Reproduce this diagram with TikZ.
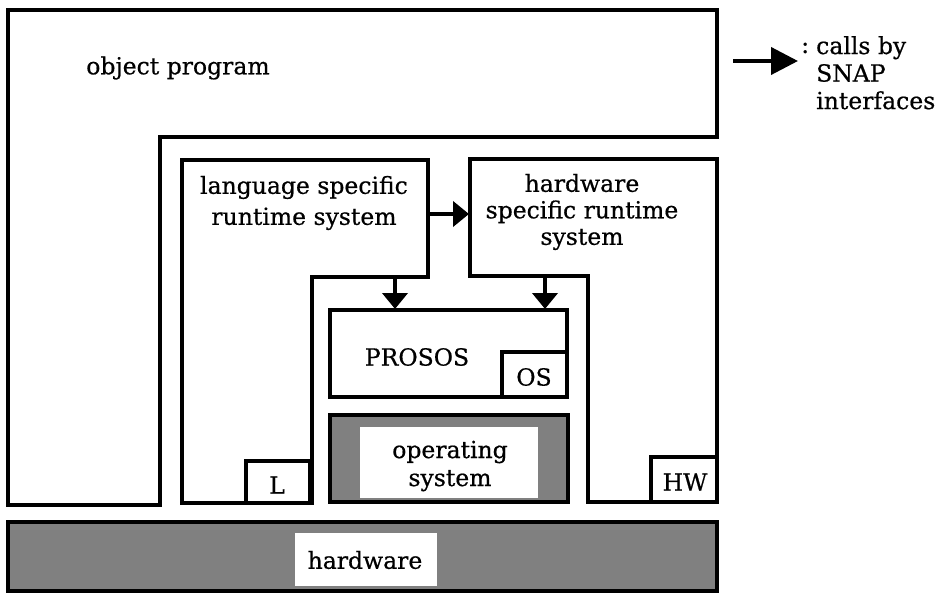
\documentclass[tikz,border=0pt]{standalone}
\usepackage{fontspec}
\setmainfont{DejaVu Serif}[FakeBold=0.6]
\usetikzlibrary{arrows.meta}
\begin{document}
\begin{tikzpicture}[x=1pt,y=-1pt,
  wall/.style={line width=4.2pt, line join=miter},
  lbl/.style={font=\fontsize{23.5}{27}\selectfont, align=center, inner sep=0pt},
  call/.style={line width=4pt, -{Triangle[length=16pt,width=25pt]}},
  bigcall/.style={line width=4pt, -{Triangle[length=27pt,width=27pt]}},
  shaded/.style={fill=black!50}]
\useasboundingbox (0,0) rectangle (944,596);
% object program
\draw[wall] (8,10) -- (717,10) -- (717,137) -- (160,137) -- (160,505) -- (8,505) -- cycle;
\node[lbl] (obj) at (178,68) {object program};
% language specific runtime system
\draw[wall] (182,160) -- (428,160) -- (428,277) -- (312,277) -- (312,503) -- (182,503) -- cycle;
\draw[wall] (246,503) rectangle (310,461);
\node[lbl, font=\fontsize{23.5}{31}\selectfont] (lang) at (304,203) {language specific\\runtime system};
\node[lbl] (L) at (277,485) {L};
% hardware specific runtime system
\draw[wall] (470,159) -- (717,159) -- (717,502) -- (588,502) -- (588,276) -- (470,276) -- cycle;
\draw[wall] (651,502) rectangle (717,457);
\node[lbl, font=\fontsize{23.5}{26.5}\selectfont] (hwrt) at (582,212) {hardware\\specific runtime\\system};
\node[lbl] (HW) at (685,482) {HW};
% PROSOS
\draw[wall] (330,310) rectangle (567,397);
\draw[wall] (502,397) rectangle (567,352);
\node[lbl] (prosos) at (417,357) {PROSOS};
\node[lbl] (OS) at (534,377) {OS};
% operating system
\draw[wall, shaded] (330,415) rectangle (568,502);
\fill[white] (360,427) rectangle (538,498);
\node[lbl, font=\fontsize{23.5}{28}\selectfont] (opsys) at (450,466) {operating\\system};
% hardware
\draw[wall, shaded] (8,522) rectangle (717,591);
\fill[white] (295,533) rectangle (437,586);
\node[lbl] (hw) at (365,560) {hardware};
% calls
\coordinate (langR) at (428,214);
\coordinate (hwL) at (469,214);
\draw[call] (langR) -- (hwL);
\coordinate (langB) at (395,277);
\coordinate (prosT1) at (395,309);
\draw[call] (langB) -- (prosT1);
\coordinate (hwB) at (545,276);
\coordinate (prosT2) at (545,309);
\draw[call] (hwB) -- (prosT2);
% legend
\coordinate (legA) at (733,61);
\coordinate (legB) at (798,61);
\draw[bigcall] (legA) -- (legB);
\node[lbl, anchor=west] (colon) at (801,48) {:};
\node[lbl, align=left, anchor=north west, font=\fontsize{23.5}{27.5}\selectfont] (legtext) at (816,36) {calls by\\SNAP\\interfaces};
\end{tikzpicture}
\end{document}
